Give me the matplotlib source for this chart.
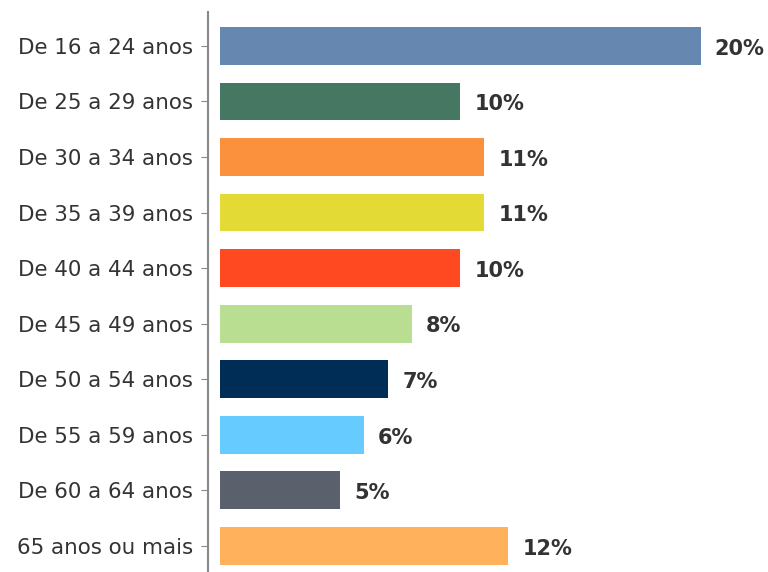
import matplotlib.pyplot as plt

categories = ['De 16 a 24 anos', 'De 25 a 29 anos', 'De 30 a 34 anos', 'De 35 a 39 anos',
              'De 40 a 44 anos', 'De 45 a 49 anos', 'De 50 a 54 anos', 'De 55 a 59 anos',
              'De 60 a 64 anos', '65 anos ou mais']
values = [20, 10, 11, 11, 10, 8, 7, 6, 5, 12]
colors = ['#6688B0', '#457762', '#FB913C', '#E4DA36', '#FF4A21',
          '#B9DD91', '#002D55', '#66CCFF', '#5A616C', '#FFB15C']

fig = plt.figure(figsize=(7.68, 5.72), dpi=100)
ax = fig.add_axes([208 / 768, 0, 560 / 768, 560 / 572])

y = range(len(categories))
ax.barh(y, values, height=0.68, color=colors)

# etiquetas de valor
for i, v in enumerate(values):
    ax.text(v + 0.58, i + 0.05, f'{v}%', va='center', ha='left', fontsize=15,
            fontweight='bold', color='#333333')

ax.set_yticks(list(y))
ax.set_yticklabels(categories, fontsize=15.4, color='#333333')
ax.set_xlim(-0.5, 22.8)
ax.set_ylim(9.47, -0.61)
ax.set_xticks([])

for s in ['top', 'right', 'bottom']:
    ax.spines[s].set_visible(False)
ax.spines['left'].set_color('#888888')
ax.spines['left'].set_linewidth(1.5)
ax.tick_params(axis='y', length=5, color='#888888', pad=6)

fig.savefig('out.png', dpi=100)
